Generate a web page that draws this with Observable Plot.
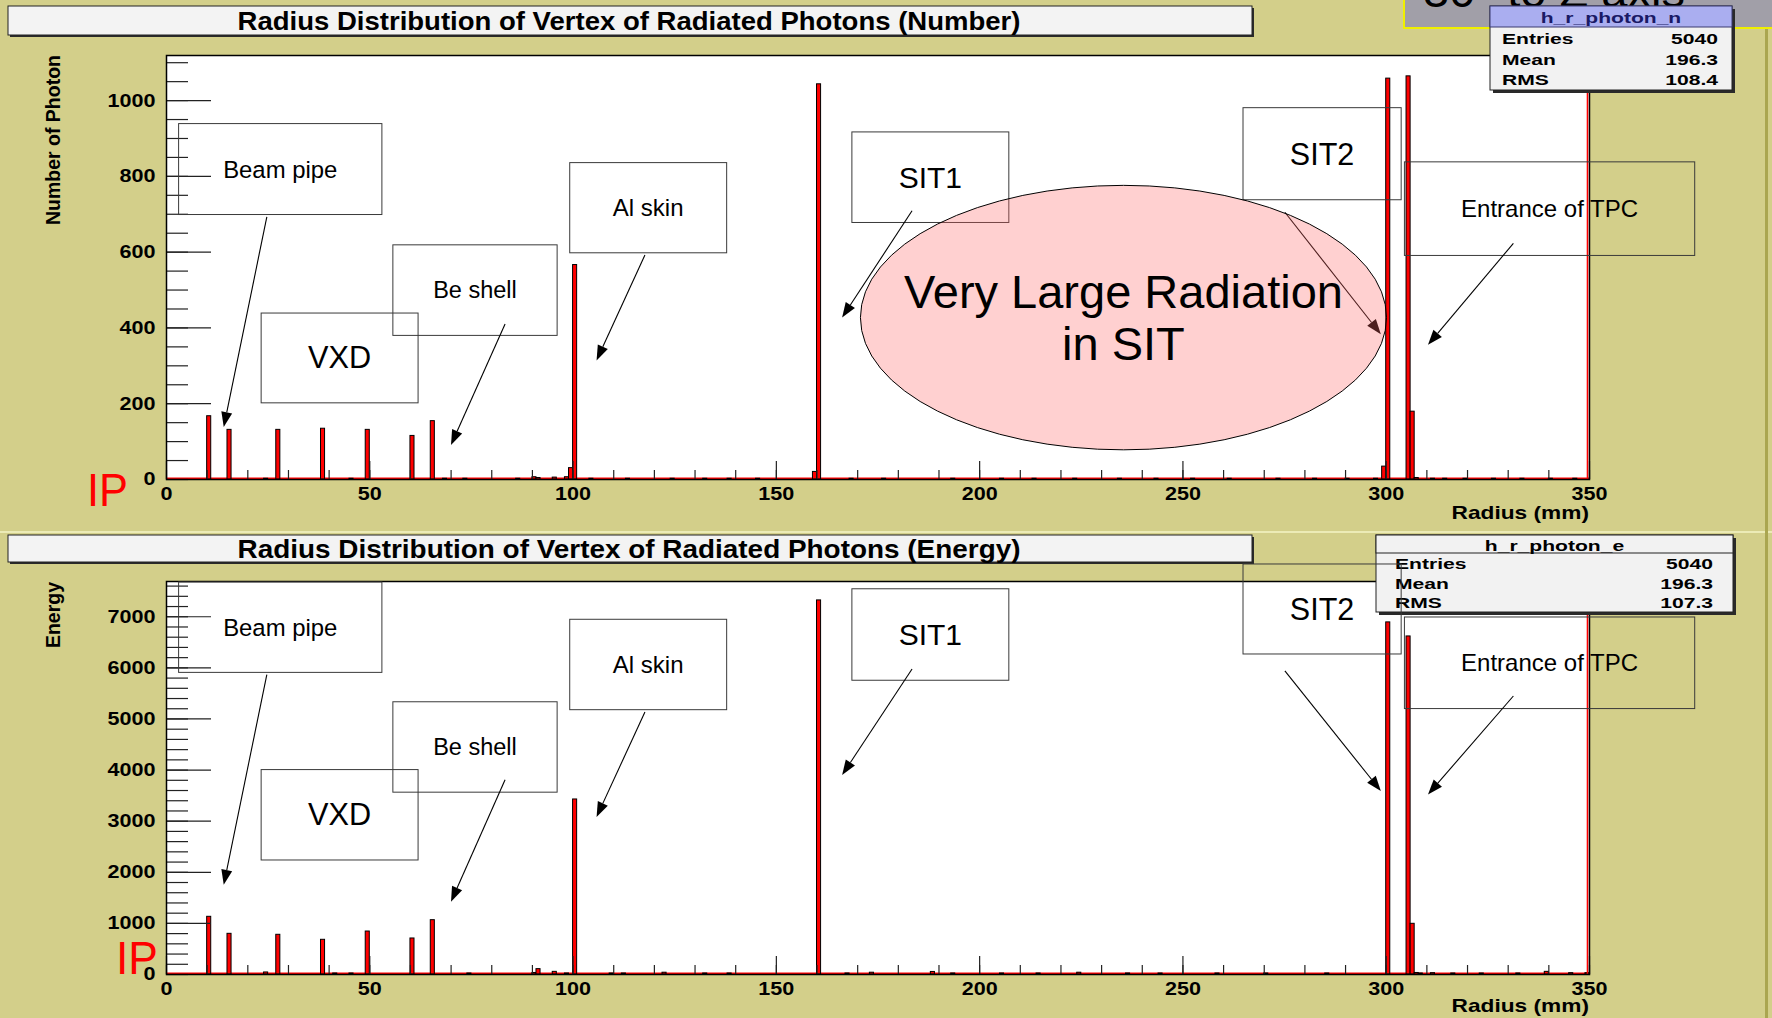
<!DOCTYPE html>
<html>
<head>
<meta charset="utf-8">
<script src="https://cdn.jsdelivr.net/npm/d3@7"></script>
<script src="https://cdn.jsdelivr.net/npm/@observablehq/plot@0.6"></script>
<style>
html, body { margin: 0; padding: 0; background: #d3cf8a; }
#wrap { position: relative; width: 1772px; height: 1018px; overflow: hidden; background: #d3cf8a; }
#wrap > svg { position: absolute; left: 0; }
</style>
</head>
<body>
<div id="wrap"></div>
<script>
// ---------------- DATA ----------------
// Histogram "h_r_photon_n": 1 mm bins (left edge in mm) and photon counts
const numberRadius = [10, 15, 24, 27, 38, 45, 49, 60, 65, 68, 73, 86, 90, 91, 95, 98, 99, 100, 104, 113, 124, 132, 138, 145, 159, 160, 168, 176, 193, 205, 213, 223, 234, 243, 252, 261, 273, 282, 290, 297, 299, 300, 305, 306, 307, 311, 314, 319, 326, 333, 340, 346];
const numberCount  = [167, 131, 2, 131, 134, 2, 131, 115, 154, 2, 2, 2, 6, 4, 5, 6, 30, 566, 2, 2, 2, 2, 2, 2, 20, 1043, 2, 2, 2, 2, 2, 2, 2, 2, 2, 2, 2, 2, 2, 2, 34, 1058, 1064, 179, 4, 2, 2, 2, 2, 2, 2, 2];

// Histogram "h_r_photon_e": 1 mm bins and deposited energy
const energyRadius = [10, 15, 24, 27, 38, 41, 45, 49, 60, 65, 74, 90, 91, 95, 98, 100, 109, 112, 122, 132, 138, 160, 167, 173, 188, 193, 205, 214, 224, 236, 244, 258, 270, 285, 300, 305, 306, 307, 308, 311, 316, 323, 332, 339, 345, 349];
const energyValue  = [1129, 796, 40, 777, 679, 20, 20, 841, 705, 1063, 20, 30, 105, 52, 20, 3425, 20, 20, 35, 20, 20, 7320, 20, 35, 50, 20, 20, 20, 35, 20, 20, 20, 20, 20, 6890, 6615, 992, 30, 20, 26, 20, 20, 20, 52, 26, 26];

// Axis ticks / labels
const xMajorTicks = [0, 50, 100, 150, 200, 250, 300, 350];
const numberMajorTicks = [0, 200, 400, 600, 800, 1000];
const energyMajorTicks = [0, 1000, 2000, 3000, 4000, 5000, 6000, 7000];

// Titles and statistics boxes
const panelTitles = ["Radius Distribution of Vertex of Radiated Photons (Number)", "Radius Distribution of Vertex of Radiated Photons (Energy)"];
const yTitles = ["Number of Photon", "Energy"];
const histNames = ["h_r_photon_n", "h_r_photon_e"];
const statLabels = ["Entries", "Mean", "RMS"];
const statsNumber = ["5040", "196.3", "108.4"];
const statsEnergy = ["5040", "196.3", "107.3"];

// Annotations (in data units: radius mm, y value)
const annotLabels = ["Beam pipe", "VXD", "Be shell", "Al skin", "SIT1", "SIT2", "Entrance of TPC"];
const annotX1 = [3.1, 23.4, 55.8, 99.3, 168.7, 264.9, 304.6];
const annotX2 = [53.1, 62.0, 96.2, 137.9, 207.3, 303.8, 376.0];
const numberBoxLow  = [698, 201, 379, 597, 677, 737, 590];
const numberBoxHigh = [938, 438, 618, 835, 916, 980, 837];
const energyBoxLow  = [5902, 2231, 3558, 5172, 5748, 6262, 5194];
const energyBoxHigh = [7671, 4000, 5327, 6941, 7538, 8023, 6986];
const arrowFromX = [24.8, null, 83.4, 117.8, 183.5, 275.2, 331.4];
const arrowToX   = [14.2, null, 70.1, 105.9, 166.3, 298.8, 310.4];
const numberArrowFromY = [692, null, 409, 591, 708, 704, 622];
const numberArrowToY   = [137, null, 90, 313, 426, 382, 354];
const energyArrowFromY = [5857, null, 3800, 5127, 5969, 5930, 5440];
const energyArrowToY   = [1744, null, 1413, 3072, 3894, 3581, 3513];
const sitEllipseCenter = [235.5, 426];
const sitEllipseRadii = [64.7, 349];
const sitTextLines = ["Very Large Radiation", "in SIT"];
const sitTextY = [495, 358];
const cornerNote = "30° to Z axis";

// ---------------- STYLE / LAYOUT ----------------
const FONT = "'Liberation Sans', Arial, Helvetica, sans-serif";
const W = 1772, H = 1018;
const X0 = 166, X1 = 1589;
const labelSize = {"Beam pipe": 23.9, "VXD": 30.7, "Be shell": 23.5, "Al skin": 24, "SIT1": 30, "SIT2": 30.5, "Entrance of TPC": 24};

const wrap = document.getElementById("wrap");

function buildPanel(cfg) {
  const bins = cfg.radius.map((r, i) => ({r, v: cfg.values[i]}));
  const frameW = X1 - X0;
  const frameH = cfg.height - cfg.marginTop - cfg.marginBottom;
  const minorX = d3.range(0, 351, 10);
  const chart = Plot.plot({
    width: W, height: cfg.height,
    marginLeft: X0, marginRight: W - X1, marginTop: cfg.marginTop, marginBottom: cfg.marginBottom,
    x: {domain: [0, 350]},
    y: {domain: [0, cfg.yMax]},
    style: {background: "transparent", fontFamily: FONT, overflow: "visible"},
    marks: [
      Plot.frame({fill: "white", stroke: "none"}),
      Plot.ruleY([0], {stroke: "red", strokeWidth: 2, dy: -1}),
      Plot.rect(bins, {x1: "r", x2: d => d.r + 1, y1: 0, y2: "v", fill: "red", stroke: "black", strokeWidth: 1}),
      Plot.ruleX([350], {stroke: "red", strokeWidth: 1.6, dx: -2}),
      Plot.tickY(cfg.minorY, {stroke: "#222", strokeWidth: 1.2, insetRight: frameW - 22}),
      Plot.tickY(cfg.majorY, {stroke: "#222", strokeWidth: 1.2, insetRight: frameW - 45}),
      Plot.tickX(minorX, {stroke: "#222", strokeWidth: 1.2, insetTop: frameH - 9}),
      Plot.tickX(xMajorTicks, {stroke: "#222", strokeWidth: 1.2, insetTop: frameH - 18}),
      Plot.frame({stroke: "black", strokeWidth: 1.5, fill: "none"}),
      Plot.axisY({ticks: cfg.majorY, tickSize: 0, tickPadding: 11, label: null, fontSize: 18.6, fontWeight: "bold", fill: "black", tickFormat: d => String(d)}),
      Plot.axisX({ticks: xMajorTicks, tickSize: 0, tickPadding: 7, label: null, fontSize: 18.6, fontWeight: "bold", fill: "black", tickFormat: d => String(d)})
    ]
  });
  chart.style.top = cfg.top + "px";
  wrap.appendChild(chart);
  d3.select(chart).selectAll("text").each(function () {
    const w = this.getComputedTextLength();
    if (w > 0) {
      this.setAttribute("textLength", (w * 1.16).toFixed(1));
      this.setAttribute("lengthAdjust", "spacingAndGlyphs");
    }
  });
  return chart;
}

const chartN = buildPanel({
  top: 0, height: 531, marginTop: 55, marginBottom: 52, yMax: 1119,
  radius: numberRadius, values: numberCount,
  majorY: numberMajorTicks, minorY: d3.range(0, 1101, 50)
});
const chartE = buildPanel({
  top: 531, height: 487, marginTop: 50, marginBottom: 44, yMax: 7690,
  radius: energyRadius, values: energyValue,
  majorY: energyMajorTicks, minorY: d3.range(0, 7601, 200)
});

// ---------------- OVERLAY ----------------
const overlay = d3.create("svg").attr("width", W).attr("height", H).style("top", "0px");
const pending = [];
function addText(parent, o) {
  const t = parent.append("text")
    .attr("x", o.x ?? 0).attr("y", o.y ?? 0)
    .attr("font-family", FONT)
    .attr("font-size", o.size)
    .attr("font-weight", o.weight || "normal")
    .attr("text-anchor", o.anchor || "start")
    .attr("fill", o.fill || "black")
    .text(o.text);
  if (o.baseline !== null) t.attr("dominant-baseline", o.baseline || "central");
  if (o.transform) t.attr("transform", o.transform);
  pending.push({node: t.node(), width: o.width, stretch: o.stretch});
  return t;
}

// panel seam and right edge
overlay.append("rect").attr("x", 0).attr("y", 531).attr("width", W).attr("height", 2).attr("fill", "#ecebb6");
overlay.append("rect").attr("x", 1765).attr("y", 0).attr("width", 3).attr("height", H).attr("fill", "#aaa650");

// title boxes
function titleBox(y, h, text) {
  overlay.append("rect").attr("x", 10).attr("y", y + 2).attr("width", 1244).attr("height", h).attr("fill", "#2a2a2a");
  overlay.append("rect").attr("x", 8).attr("y", y).attr("width", 1244).attr("height", h).attr("fill", "#f3f3f3").attr("stroke", "#222").attr("stroke-width", 1);
  addText(overlay, {x: 629, y: y + h / 2, text, size: 26, weight: "bold", anchor: "middle", width: 783});
}
titleBox(6, 29, panelTitles[0]);
titleBox(535, 27, panelTitles[1]);

// axis titles
addText(overlay, {text: yTitles[0], size: 19.5, weight: "bold", anchor: "end", transform: "translate(53,55) rotate(-90)"});
addText(overlay, {text: yTitles[1], size: 19.5, weight: "bold", anchor: "end", transform: "translate(53,582) rotate(-90)"});
addText(overlay, {x: 1589, y: 512, text: "Radius (mm)", size: 18.6, weight: "bold", anchor: "end", stretch: 1.22});
addText(overlay, {x: 1589, y: 1005, text: "Radius (mm)", size: 18.6, weight: "bold", anchor: "end", stretch: 1.22});

// IP labels
addText(overlay, {x: 87, y: 506, text: "IP", size: 46, fill: "red", baseline: null, width: 41});
addText(overlay, {x: 116, y: 974, text: "IP", size: 46, fill: "red", baseline: null, width: 42});

// corner note (top-right)
overlay.append("rect").attr("x", 1404).attr("y", -3).attr("width", 400).attr("height", 31).attr("fill", "#a19fa8").attr("stroke", "#f0f000").attr("stroke-width", 2);
addText(overlay, {x: 1423, y: 7, text: cornerNote, size: 47, baseline: null, width: 262});

// stats boxes
function statsBox(o) {
  overlay.append("rect").attr("x", o.x + 3).attr("y", o.y + 3).attr("width", o.w).attr("height", o.h).attr("fill", "#2a2a2a");
  overlay.append("rect").attr("x", o.x).attr("y", o.y).attr("width", o.w).attr("height", o.h).attr("fill", "#f2f2f2").attr("stroke", "#222");
  overlay.append("rect").attr("x", o.x).attr("y", o.y).attr("width", o.w).attr("height", o.headerH).attr("fill", o.headerFill).attr("stroke", o.headerStroke);
  addText(overlay, {x: o.x + o.w / 2, y: o.y + o.headerH / 2 + 1, text: o.name, size: 15.5, weight: "bold", anchor: "middle", fill: o.nameFill, stretch: 1.36});
  statLabels.forEach((lab, i) => {
    addText(overlay, {x: o.labelX, y: o.rowY[i], text: lab, size: 15.5, weight: "bold", stretch: 1.36});
    addText(overlay, {x: o.valueX, y: o.rowY[i], text: o.values[i], size: 15.5, weight: "bold", anchor: "end", stretch: 1.36});
  });
}
statsBox({x: 1490, y: 6, w: 242, h: 84, headerH: 21, headerFill: "#aaaef0", headerStroke: "#3a3a70", nameFill: "#1a1a66",
  name: histNames[0], labelX: 1502, valueX: 1718, rowY: [38, 59, 79], values: statsNumber});
statsBox({x: 1376, y: 535, w: 357, h: 77, headerH: 18, headerFill: "#f2f2f2", headerStroke: "#222", nameFill: "black",
  name: histNames[1], labelX: 1395, valueX: 1713, rowY: [563, 583, 602], values: statsEnergy});

// annotations through the plots' scales
function annotate(chart, offY, boxLow, boxHigh, fromY, toY, withEllipse) {
  const sx = v => chart.scale("x").apply(v);
  const sy = v => chart.scale("y").apply(v) + offY;
  const g = overlay.append("g");
  annotLabels.forEach((lab, i) => {
    const x1 = sx(annotX1[i]), x2 = sx(annotX2[i]), yt = sy(boxHigh[i]), yb = sy(boxLow[i]);
    g.append("rect").attr("x", x1).attr("y", yt).attr("width", x2 - x1).attr("height", yb - yt)
      .attr("fill", "none").attr("stroke", "#3a3a3a").attr("stroke-width", 1);
  });
  annotLabels.forEach((lab, i) => {
    if (arrowFromX[i] == null) return;
    const ax = sx(arrowFromX[i]), ay = sy(fromY[i]), bx = sx(arrowToX[i]), by = sy(toY[i]);
    const len = Math.hypot(bx - ax, by - ay), ux = (bx - ax) / len, uy = (by - ay) / len;
    const hl = 15, hw = 5.5;
    const cx = bx - ux * hl, cy = by - uy * hl;
    g.append("line").attr("x1", ax).attr("y1", ay).attr("x2", cx).attr("y2", cy).attr("stroke", "black").attr("stroke-width", 1.1);
    g.append("path").attr("d", `M${bx},${by}L${cx - uy * hw},${cy + ux * hw}L${cx + uy * hw},${cy - ux * hw}Z`).attr("fill", "black");
  });
  if (withEllipse) {
    const cx = sx(sitEllipseCenter[0]), cy = sy(sitEllipseCenter[1]);
    const rx = sx(sitEllipseCenter[0] + sitEllipseRadii[0]) - cx;
    const ry = cy - sy(sitEllipseCenter[1] + sitEllipseRadii[1]);
    g.append("ellipse").attr("cx", cx).attr("cy", cy).attr("rx", rx).attr("ry", ry)
      .attr("fill", "rgb(255,100,100)").attr("fill-opacity", 0.3).attr("stroke", "black").attr("stroke-width", 1);
    sitTextLines.forEach((s, i) => addText(g, {x: cx, y: sy(sitTextY[i]), text: s, size: 47, anchor: "middle"}));
  }
  annotLabels.forEach((lab, i) => {
    addText(g, {x: sx((annotX1[i] + annotX2[i]) / 2), y: sy((boxLow[i] + boxHigh[i]) / 2), text: lab, size: labelSize[lab], anchor: "middle"});
  });
}
annotate(chartN, 0, numberBoxLow, numberBoxHigh, numberArrowFromY, numberArrowToY, true);
annotate(chartE, 531, energyBoxLow, energyBoxHigh, energyArrowFromY, energyArrowToY, false);

wrap.appendChild(overlay.node());
pending.forEach(p => {
  let w = null;
  if (p.width) w = p.width;
  else if (p.stretch) w = p.node.getComputedTextLength() * p.stretch;
  if (w) {
    p.node.setAttribute("textLength", w.toFixed(1));
    p.node.setAttribute("lengthAdjust", "spacingAndGlyphs");
  }
});
</script>
</body>
</html>
